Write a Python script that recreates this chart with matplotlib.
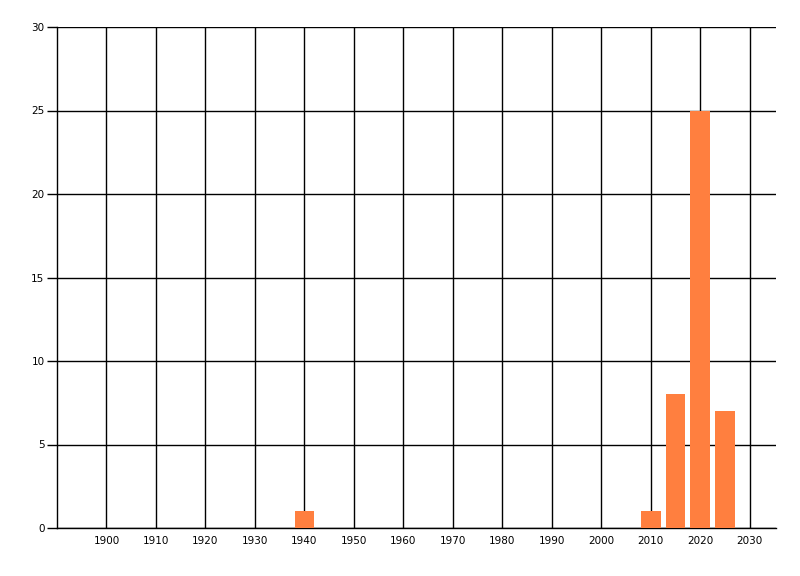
import matplotlib.pyplot as plt

years = [1940, 2010, 2015, 2020, 2025]
counts = [1, 1, 8, 25, 7]
xticks = list(range(1900, 2031, 10))
yticks = [0, 5, 10, 15, 20, 25, 30]

fig = plt.figure(figsize=(8, 5.76), dpi=100)
ax = fig.add_axes([57 / 800, 1 - 528 / 576, 719 / 800, 501 / 576])

ax.bar(years, counts, width=4, color="#FF7F3F", zorder=3)

ax.set_xlim(1890, 2035.3)
ax.set_ylim(0, 30)
ax.set_xticks(xticks)
ax.set_yticks(yticks)
ax.grid(True, color="black", linewidth=1, zorder=1)
ax.set_axisbelow(True)

for side in ["top", "right"]:
    ax.spines[side].set_visible(False)
for side in ["left", "bottom"]:
    ax.spines[side].set_linewidth(1)

ax.tick_params(axis="x", length=0, pad=6, labelsize=7.5)
ax.tick_params(axis="y", length=7, width=1, pad=2, labelsize=7.5)

fig.savefig("out.png", dpi=100)
